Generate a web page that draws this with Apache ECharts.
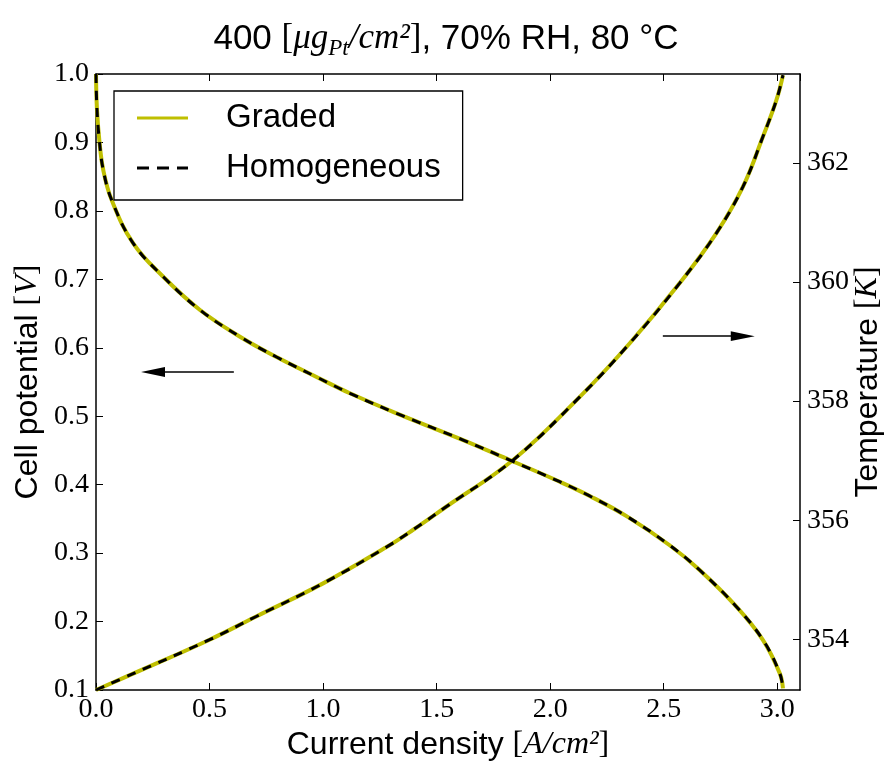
<!DOCTYPE html>
<html><head><meta charset="utf-8">
<script src="https://cdn.jsdelivr.net/npm/echarts@6/dist/echarts.min.js"></script>
<style>html,body{margin:0;padding:0;background:#fff}#c{width:892px;height:761px}</style>
</head><body><div id="c"></div>
<script>
// Polarization curve: current density [A/cm2] vs cell potential [V]
const currentV = [0.0, 0.004, 0.0145, 0.032, 0.069, 0.164, 0.296, 0.458, 0.634, 0.795, 0.971, 1.118, 1.3235, 1.6167, 1.822, 2.042, 2.174, 2.336, 2.526, 2.658, 2.82, 2.937, 3.011, 3.025];
const gradedV   = [1.0, 0.950, 0.9036, 0.8597, 0.8159, 0.7526, 0.7038, 0.6552, 0.6162, 0.5865, 0.5573, 0.5335, 0.5042, 0.4652, 0.436, 0.4043, 0.3835, 0.354, 0.3115, 0.2753, 0.2217, 0.173, 0.1243, 0.1024];
const homogV    = [1.0, 0.950, 0.9036, 0.8597, 0.8159, 0.7526, 0.7038, 0.6552, 0.6162, 0.5865, 0.5573, 0.5335, 0.5042, 0.4652, 0.436, 0.4043, 0.3835, 0.354, 0.3115, 0.2753, 0.2217, 0.173, 0.1243, 0.1024];
// Temperature curve: current density [A/cm2] vs temperature [K]
const currentT = [0.0, 0.161, 0.4978, 0.7033, 1.0, 1.2795, 1.3965, 1.5436, 1.8367, 2.1303, 2.3504, 2.5704, 2.7319, 2.849, 2.937, 2.996, 3.025];
const gradedT  = [353.15, 353.42, 353.99, 354.38, 354.94, 355.55, 355.84, 356.23, 357.01, 358.07, 358.97, 359.98, 360.82, 361.60, 362.44, 363.05, 363.47];
const homogT   = [353.15, 353.42, 353.99, 354.38, 354.94, 355.55, 355.84, 356.23, 357.01, 358.07, 358.97, 359.98, 360.82, 361.60, 362.44, 363.05, 363.47];
// Axis ranges and ticks
const xRange = [0, 3.1];
const vRange = [0.1, 1.0];
const tRange = [353.15, 363.49];
const tTicks = [354, 356, 358, 360, 362];
// Annotation arrows (data coordinates): [x start, x end, y]
const arrowLeft  = [0.607, 0.251, 0.5646];
const arrowRight = [2.496, 2.848, 359.09];

const pair = (xs, ys) => xs.map((x, i) => [x, ys[i]]);
const YEL = '#bfbf00';
const SANS = 'Liberation Sans';
const SERIF = 'Liberation Serif';
const arrowPath = 'path://M0,0 L5,24 L-5,24 Z M12,0 L12.01,0 L12,0.01 Z M-12,0 L-12.01,0 L-12,0.01 Z';
const solidIcon = 'path://M0,0 H51 V3 H0 Z';
const dashIcon = 'path://M0,0 H12 V3 H0 Z M20,0 H32 V3 H20 Z M40,0 H51 V3 H40 Z';

function mkArrow(a) {
  return {
    silent: true, animation: false,
    symbol: ['none', arrowPath], symbolSize: 24,
    label: {show: false},
    lineStyle: {color: '#000', width: 1.6, type: 'solid'},
    itemStyle: {color: '#000'},
    emphasis: {disabled: true},
    data: [[{coord: [a[0], a[2]]}, {coord: [a[1], a[2]]}]]
  };
}

const NF = 32;
const nameRich = {
  m: {fontFamily: SERIF, fontStyle: 'italic', fontSize: NF, color: '#000'},
  b: {fontFamily: SERIF, fontSize: NF, color: '#000'}
};
const tickLabel = {fontFamily: SERIF, fontSize: 28, color: '#000'};
const TF = 35;

const chart = echarts.init(document.getElementById('c'), null, {renderer: 'canvas'});
chart.setOption({
  animation: false,
  backgroundColor: '#fff',
  title: {
    text: '{a|400 }{b|[}{m|μg}{s|Pt}{m|/cm²}{b|]}{a|, 70% RH, 80 °C}',
    left: 'center', top: 13,
    textStyle: {
      fontWeight: 'normal',
      rich: {
        a: {fontFamily: SANS, fontSize: TF, fontWeight: 'normal', color: '#000', lineHeight: 42},
        b: {fontFamily: SERIF, fontSize: TF, fontWeight: 'normal', color: '#000', lineHeight: 42},
        m: {fontFamily: SERIF, fontStyle: 'italic', fontWeight: 'normal', fontSize: TF, color: '#000', lineHeight: 42},
        s: {fontFamily: SERIF, fontStyle: 'italic', fontWeight: 'normal', fontSize: 23, color: '#000', lineHeight: 22, verticalAlign: 'bottom'}
      }
    }
  },
  grid: {left: 96, top: 74, width: 704, height: 616, containLabel: false, outerBoundsMode: 'none'},
  legend: {
    data: [{name: 'Graded', icon: solidIcon}, {name: 'Homogeneous', icon: dashIcon}],
    orient: 'vertical', left: 114, top: 91,
    padding: [7, 22, 12, 23],
    itemWidth: 51, itemHeight: 3, itemGap: 10,
    itemStyle: {borderWidth: 0},
    borderColor: '#000', borderWidth: 1.3, borderRadius: 0,
    backgroundColor: '#fff',
    textStyle: {fontFamily: SANS, fontSize: 33, color: '#000', lineHeight: 40, padding: [0, 0, 0, 33]}
  },
  xAxis: [{
    type: 'value', min: xRange[0], max: xRange[1], interval: 0.5, position: 'bottom',
    name: 'Current density {b|[}{m|A/cm²}{b|]}', nameLocation: 'middle', nameGap: 37,
    nameTextStyle: {fontFamily: SANS, fontSize: NF, color: '#000', rich: nameRich},
    axisLine: {show: true, onZero: false, lineStyle: {color: '#000', width: 1.5}},
    axisTick: {show: true, inside: true, length: 7, lineStyle: {color: '#000', width: 1}},
    axisLabel: Object.assign({margin: 6, showMaxLabel: false, formatter: v => v.toFixed(1)}, tickLabel),
    splitLine: {show: false}
  }, {
    type: 'value', min: xRange[0], max: xRange[1], interval: 0.5, position: 'top',
    axisLine: {show: true, onZero: false, lineStyle: {color: '#000', width: 1.5}},
    axisTick: {show: true, inside: true, length: 7, lineStyle: {color: '#000', width: 1}},
    axisLabel: {show: false},
    splitLine: {show: false}
  }],
  yAxis: [{
    type: 'value', min: vRange[0], max: vRange[1], interval: 0.1, position: 'left',
    name: 'Cell potential {b|[}{m|V}{b|]}', nameLocation: 'middle', nameGap: 52, nameRotate: 90,
    nameMoveOverlap: false,
    nameTextStyle: {fontFamily: SANS, fontSize: NF, color: '#000', rich: nameRich},
    axisLine: {show: true, onZero: false, lineStyle: {color: '#000', width: 1.5}},
    axisTick: {show: true, inside: true, length: 7, lineStyle: {color: '#000', width: 1}},
    axisLabel: Object.assign({margin: 7, formatter: v => v.toFixed(1)}, tickLabel),
    splitLine: {show: false}
  }, {
    type: 'value', min: tRange[0], max: tRange[1], position: 'right',
    name: 'Temperature {b|[}{m|K}{b|]}', nameLocation: 'middle', nameGap: 52, nameRotate: 90,
    nameMoveOverlap: false,
    nameTextStyle: {fontFamily: SANS, fontSize: NF, color: '#000', rich: nameRich},
    axisLine: {show: true, onZero: false, lineStyle: {color: '#000', width: 1.5}},
    axisTick: {show: true, inside: true, length: 7, customValues: tTicks, lineStyle: {color: '#000', width: 1}},
    axisLabel: Object.assign({margin: 7, customValues: tTicks, formatter: v => String(Math.round(v))}, tickLabel),
    splitLine: {show: false}
  }],
  series: [{
    name: 'Graded', type: 'line', xAxisIndex: 0, yAxisIndex: 0,
    data: pair(currentV, gradedV), showSymbol: false, symbol: 'none',
    smooth: 0.4,
    lineStyle: {color: YEL, width: 4}, itemStyle: {color: YEL},
    markLine: mkArrow(arrowLeft)
  }, {
    name: 'Graded', type: 'line', xAxisIndex: 0, yAxisIndex: 1,
    data: pair(currentT, gradedT), showSymbol: false, symbol: 'none',
    smooth: 0.4,
    lineStyle: {color: YEL, width: 4}, itemStyle: {color: YEL},
    markLine: mkArrow(arrowRight)
  }, {
    name: 'Homogeneous', type: 'line', xAxisIndex: 0, yAxisIndex: 0,
    data: pair(currentV, homogV), showSymbol: false, symbol: 'none',
    smooth: 0.4,
    lineStyle: {color: '#000', width: 3, type: [9, 8]}, itemStyle: {color: '#000'}
  }, {
    name: 'Homogeneous', type: 'line', xAxisIndex: 0, yAxisIndex: 1,
    data: pair(currentT, homogT), showSymbol: false, symbol: 'none',
    smooth: 0.4,
    lineStyle: {color: '#000', width: 3, type: [9, 8]}, itemStyle: {color: '#000'}
  }]
});
</script></body></html>
